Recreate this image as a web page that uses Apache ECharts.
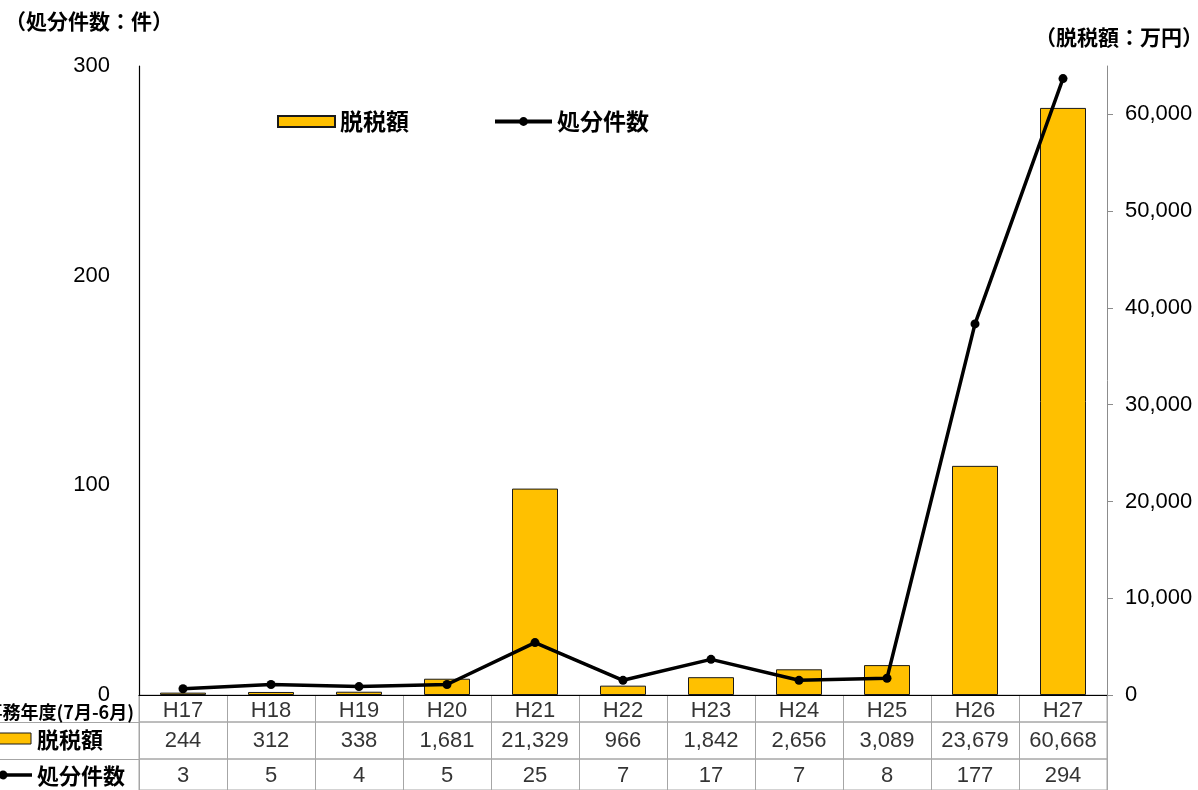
<!DOCTYPE html>
<html><head><meta charset="utf-8">
<script src="https://cdn.jsdelivr.net/npm/echarts@6/dist/echarts.min.js"></script>
<style>html,body{margin:0;padding:0;background:#fff}#c{width:1198px;height:790px}</style>
</head><body><div id="c"></div>
<script>
const categories = ['H17','H18','H19','H20','H21','H22','H23','H24','H25','H26','H27'];
const taxAmount = [244,312,338,1681,21329,966,1842,2656,3089,23679,60668];
const caseCount = [3,5,4,5,25,7,17,7,8,177,294];
const leftAxis = {min:0, max:300, interval:100};
const rightAxis = {min:0, max:65000, interval:10000};
const rowLabels = ['事務年度(7月-6月)','脱税額','処分件数'];

const JP = '"Noto Sans CJK JP", sans-serif';
const NUM = '"Liberation Sans", Arial, sans-serif';
const fmt = v => String(v).replace(/\B(?=(\d{3})+(?!\d))/g, ',');
const gridLine = '#a6a6a6';

const chart = echarts.init(document.getElementById('c'), null, {renderer:'canvas'});

function tableAxis(gi){
  return {type:'category', gridIndex:gi, data:categories, boundaryGap:true,
    axisLine:{show:false}, axisTick:{show:false}, axisLabel:{show:false},
    splitLine:{show:true, interval:0, lineStyle:{color:gridLine, width:1}}};
}
function tableY(gi){
  return {type:'value', gridIndex:gi, min:0, max:1, show:false, splitLine:{show:false}};
}
function tableSeries(gi, texts, name, dy){
  return {type:'scatter', name:name, xAxisIndex:gi, yAxisIndex:gi, silent:true,
    symbolSize:1, itemStyle:{color:'rgba(0,0,0,0)'},
    data: categories.map((c,i)=>({value:[c,0.5], label:{formatter:texts[i]}})),
    label:{show:true, position:'inside', offset:[0,dy], color:'#000', fontSize:22, fontFamily:NUM}};
}

const option = {
  backgroundColor:'#fff',
  animation:false,
  title:[
    {text:'（処分件数：件）', left:0, top:6, textStyle:{fontSize:21, fontWeight:'bold', fontFamily:JP, color:'#000'}},
    {text:'（脱税額：万円）', right:-10, top:22, textStyle:{fontSize:21, fontWeight:'bold', fontFamily:JP, color:'#000'}}
  ],
  legend:{
    data:[{name:'脱税額', icon:'rect'}, {name:'処分件数', lineStyle:{width:4}}], left:272, top:105, itemGap:84,
    textStyle:{fontSize:23, fontWeight:'bold', fontFamily:JP, color:'#000'},
    itemWidth:57, itemHeight:11
  },
  grid:[
    {left:139, top:66, width:968, height:629},
    {left:139, top:695, width:968, height:27, show:true, borderColor:gridLine, borderWidth:1, backgroundColor:'transparent'},
    {left:139, top:722, width:968, height:37, show:true, borderColor:gridLine, borderWidth:1, backgroundColor:'transparent'},
    {left:139, top:759, width:968, height:32, show:true, borderColor:gridLine, borderWidth:1, backgroundColor:'transparent'}
  ],
  xAxis:[
    {type:'category', gridIndex:0, data:categories, boundaryGap:true,
      axisLine:{show:false}, axisTick:{show:false}, axisLabel:{show:false}, splitLine:{show:false}},
    tableAxis(1), tableAxis(2), tableAxis(3),
    {type:'category', gridIndex:0, data:categories, position:'top',
      axisLine:{show:true, lineStyle:{color:'#000', width:1.2}}, axisTick:{show:false}, axisLabel:{show:false}, splitLine:{show:false}}
  ],
  yAxis:[
    {type:'value', gridIndex:0, position:'left', min:leftAxis.min, max:leftAxis.max, interval:leftAxis.interval,
      axisLine:{show:true, lineStyle:{color:'#000', width:1.2}}, axisTick:{show:false},
      axisLabel:{fontSize:22, fontFamily:NUM, color:'#000', margin:29}, splitLine:{show:false}},
    tableY(1), tableY(2), tableY(3),
    {type:'value', gridIndex:0, position:'right', min:rightAxis.min, max:rightAxis.max, interval:rightAxis.interval,
      axisLine:{show:true, lineStyle:{color:'#8c8c8c', width:1}},
      axisTick:{show:true, inside:false, length:6, lineStyle:{color:'#8c8c8c'}},
      axisLabel:{fontSize:22, fontFamily:NUM, color:'#000', margin:18, showMaxLabel:false,
        formatter: v => v === rightAxis.max ? '' : fmt(v)}, splitLine:{show:false}}
  ],
  series:[
    {type:'bar', name:'脱税額', xAxisIndex:0, yAxisIndex:4, data:taxAmount, barWidth:46,
      itemStyle:{color:'#FFC000', borderColor:'#1a1a1a', borderWidth:1}, z:2},
    {type:'line', name:'処分件数', xAxisIndex:0, yAxisIndex:0, data:caseCount,
      symbol:'circle', symbolSize:9, lineStyle:{color:'#000', width:3.5},
      itemStyle:{color:'#000'}, z:3},
    tableSeries(1, categories, 'row-cat', 2),
    tableSeries(2, taxAmount.map(fmt), 'row-tax', 0),
    tableSeries(3, caseCount.map(String), 'row-case', 1)
  ],
  graphic:[
    {type:'line', shape:{x1:0, y1:722.5, x2:139, y2:722.5}, style:{stroke:gridLine, lineWidth:1}},
    {type:'line', shape:{x1:0, y1:759.5, x2:139, y2:759.5}, style:{stroke:gridLine, lineWidth:1}},
    {type:'text', style:{text:rowLabels[0], x:134, y:712, align:'right', verticalAlign:'middle',
      font:'bold 18px "Noto Sans CJK JP"', fill:'#000'}},
    {type:'rect', shape:{x:-2, y:733, width:33, height:11}, style:{fill:'#FFC000', stroke:'#1a1a1a', lineWidth:1}},
    {type:'text', style:{text:rowLabels[1], x:37, y:740, align:'left', verticalAlign:'middle',
      font:'bold 22px "Noto Sans CJK JP"', fill:'#000'}},
    {type:'line', shape:{x1:0, y1:775, x2:32, y2:775}, style:{stroke:'#000', lineWidth:3.5}},
    {type:'circle', shape:{cx:3, cy:775, r:4.5}, style:{fill:'#000'}},
    {type:'text', style:{text:rowLabels[2], x:37, y:776, align:'left', verticalAlign:'middle',
      font:'bold 22px "Noto Sans CJK JP"', fill:'#000'}}
  ]
};
chart.setOption(option);
</script></body></html>
